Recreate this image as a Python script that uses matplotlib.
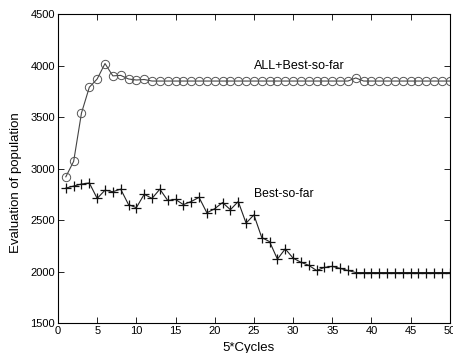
import matplotlib
matplotlib.use("Agg")
import matplotlib.pyplot as plt
import numpy as np

cycles = list(range(1, 51))
all_best = [2920, 3070, 3540, 3790, 3870, 4020, 3900, 3905, 3870, 3860,
            3865] + [3850] * 26 + [3880] + [3850] * 12
best_so_far = [2810, 2830, 2850, 2860, 2710, 2790, 2775, 2800, 2650, 2620,
               2750, 2710, 2800, 2690, 2700, 2650, 2680, 2720, 2570, 2610,
               2670, 2600, 2680, 2470, 2550, 2330, 2290, 2120, 2220, 2130,
               2090, 2060, 2010, 2040, 2050, 2030, 2010] + [1990] * 13
xticks = list(range(0, 51, 5))
yticks = list(range(1500, 4501, 500))

plt.rcParams['font.family'] = ['Liberation Sans', 'DejaVu Sans']
fig = plt.figure(figsize=(4.53, 3.53), dpi=100)
ax = fig.add_axes([0.128, 0.085, 0.865, 0.875])
ax.plot(cycles, all_best, '-', color='#444444', lw=0.8, marker='o', ms=6,
        mfc='none', mec='#555555', mew=0.7)
ax.plot(cycles, best_so_far, '-', color='#222222', lw=0.8, marker='+', ms=7,
        mec='#111111', mew=0.9)
ax.text(25, 4000, 'ALL+Best-so-far', fontsize=9, va='center', ha='left')
ax.text(25, 2750, 'Best-so-far', fontsize=8.7, va='center', ha='left')
ax.set_xlim(0, 50)
ax.set_ylim(1500, 4500)
ax.set_xticks(xticks)
ax.set_yticks(yticks)
ax.tick_params(direction='in', top=True, right=True, labelsize=8, length=4, width=0.6, pad=2)
for s in ax.spines.values():
    s.set_linewidth(0.8)
ax.set_xlabel('5*Cycles', fontsize=9.5)
ax.set_ylabel('Evaluation of population', fontsize=9.5)
ax.xaxis.set_label_coords(0.487, -0.062)
ax.yaxis.set_label_coords(-0.092, 0.453)
fig.savefig('out.png', dpi=100)
